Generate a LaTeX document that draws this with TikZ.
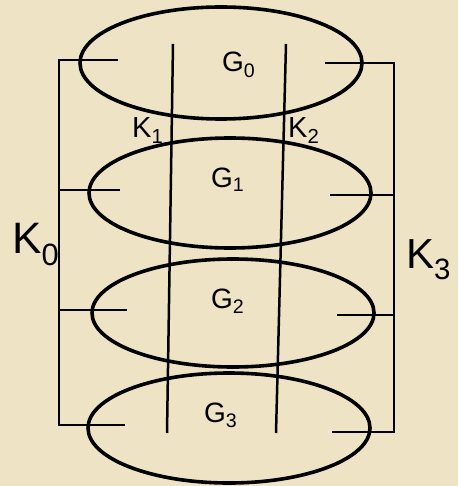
\documentclass[tikz,border=0pt]{standalone}
\usepackage{fontspec}
\setsansfont{Liberation Sans}
\usetikzlibrary{shapes.geometric}
\definecolor{paper}{RGB}{238,227,197}

\begin{document}
\begin{tikzpicture}[x=1pt,y=-1pt, oval/.style={draw,ellipse,line width=3.6pt,minimum width=282pt,minimum height=111pt,inner sep=0pt,outer sep=0pt}, wire/.style={line width=2.5pt,line cap=butt,line join=miter}, lbl/.style={anchor=base west,inner sep=0pt,font=\sffamily\fontsize{28}{28}\selectfont}]
\fill[paper] (0,0) rectangle (458,486);
\useasboundingbox (0,0) rectangle (458,486);
% the four ovals
\node[oval,minimum height=112pt] (g0) at (221,63) {};
\node[oval,minimum height=110pt] (g1) at (230,193) {};
\node[oval,minimum height=108pt] (g2) at (233,313) {};
\node[oval,minimum height=110pt] (g3) at (229,428) {};
\node[lbl] (lg0) at (222,72) {G\textsubscript{0}};
\node[lbl] (lg1) at (211,187) {G\textsubscript{1}};
\node[lbl] (lg2) at (211,308) {G\textsubscript{2}};
\node[lbl] (lg3) at (204,422) {G\textsubscript{3}};
% inner lines K1, K2
\coordinate (k1a) at (173,44); \coordinate (k1b) at (167,433);
\coordinate (k2a) at (286,44); \coordinate (k2b) at (276,433);
\draw[wire] (k1a)--(k1b); \draw[wire] (k2a)--(k2b);
\node[lbl,font=\sffamily\fontsize{29}{29}\selectfont] (lk1) at (132,138) {K\textsubscript{1}};
\node[lbl,font=\sffamily\fontsize{29}{29}\selectfont] (lk2) at (288,138) {K\textsubscript{2}};
% outer line K0
\coordinate (k0a) at (59,60); \coordinate (k0b) at (59,425);
\coordinate (s00) at (118,60); \coordinate (s03) at (125,425);
\coordinate (k01) at (59,190); \coordinate (s01) at (120,190);
\coordinate (k02) at (59,310); \coordinate (s02) at (127,310);
\draw[wire] (s00)--(k0a)--(k0b)--(s03); \draw[wire] (k01)--(s01); \draw[wire] (k02)--(s02);
\node[lbl,font=\sffamily\fontsize{44}{44}\selectfont] (lk0) at (12,253) {K\textsubscript{0}};
% outer line K3
\coordinate (k3a) at (394,63); \coordinate (k3b) at (394,432);
\coordinate (s30) at (325,63); \coordinate (s33) at (332,432);
\coordinate (k31) at (394,195); \coordinate (s31) at (330,195);
\coordinate (k32) at (394,315); \coordinate (s32) at (337,315);
\draw[wire] (s30)--(k3a)--(k3b)--(s33); \draw[wire] (k31)--(s31); \draw[wire] (k32)--(s32);
\node[lbl,font=\sffamily\fontsize{42}{42}\selectfont] (lk3) at (406,268) {K\textsubscript{3}};
\end{tikzpicture}
\end{document}
